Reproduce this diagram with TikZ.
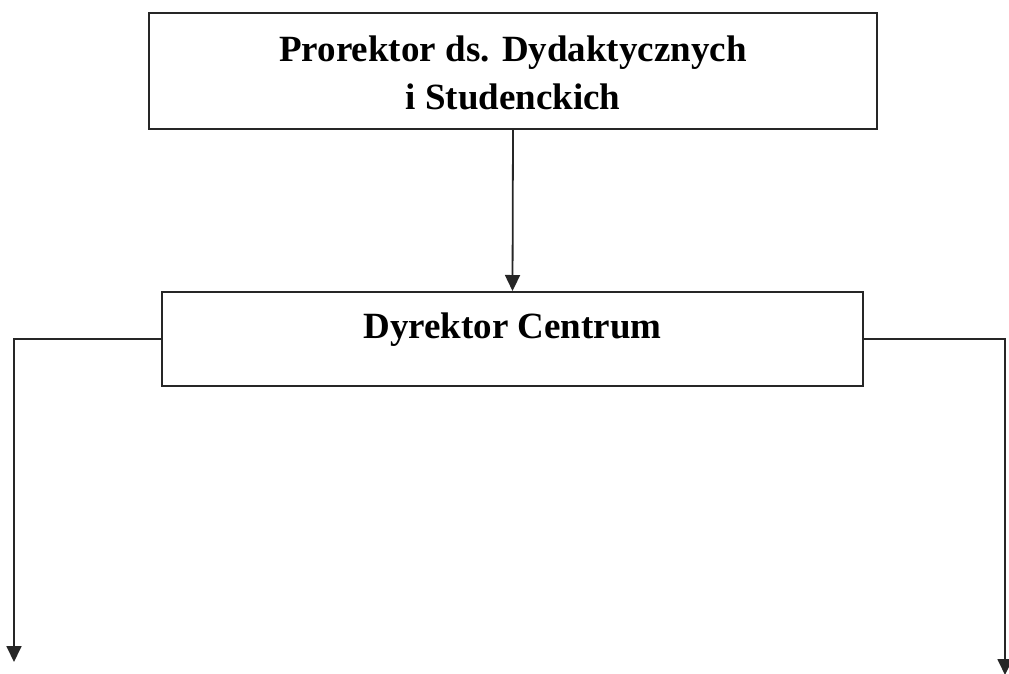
\documentclass[tikz,border=0pt]{standalone}
\usepackage{fontspec}
\setmainfont{Liberation Serif}
\usetikzlibrary{arrows.meta}
\begin{document}
\begin{tikzpicture}[x=1pt,y=-1pt,
  box/.style={draw=black!85, line width=2pt, rectangle, inner sep=0pt, align=center,
    font=\fontsize{37}{48}\selectfont\bfseries},
  conn/.style={draw=black!85, line width=1.8pt, -{Triangle[width=15pt,length=16pt]}}]
\useasboundingbox (0,0) rectangle (1009,673);
\node[box, minimum width=728pt, minimum height=116pt, text height=80pt, text depth=4pt] (prorektor) at (513,71)
  {Prorektor ds. Dydaktycznych\\i Studenckich};
\node[box, minimum width=701pt, minimum height=94pt, text height=20pt, text depth=22pt] (dyrektor) at (512.5,339)
  {Dyrektor Centrum};
\coordinate (leftend) at (14,662);
\coordinate (rightend) at (1005,675);
\draw[conn] (prorektor.south) -- (dyrektor.north);
\draw[conn] (dyrektor.west) -| (leftend);
\draw[conn] (dyrektor.east) -| (rightend);
\end{tikzpicture}
\end{document}
